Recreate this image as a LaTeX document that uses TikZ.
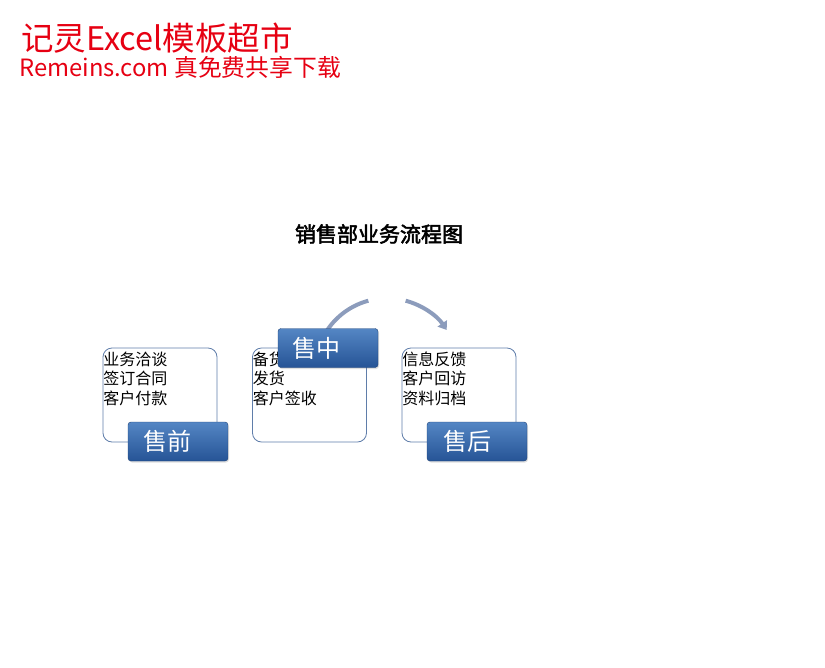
\documentclass[tikz,border=0pt]{standalone}
\usepackage{fontspec}
\setmainfont[AutoFakeBold=2.5]{Noto Sans CJK SC}
\usetikzlibrary{arrows.meta,shadows}
\definecolor{wmred}{RGB}{230,0,18}
\definecolor{boxline}{RGB}{95,125,170}
\definecolor{labtop}{RGB}{84,134,196}
\definecolor{labbot}{RGB}{38,84,150}
\definecolor{arcgray}{RGB}{140,156,188}

\begin{document}
\begin{tikzpicture}[x=1pt, y=-1pt,
    stagebox/.style={draw=boxline, fill=white, rounded corners=9pt, minimum width=114pt, minimum height=94pt, line width=0.8pt},
    stagetext/.style={anchor=north west, align=left, inner sep=0pt, font=\fontsize{16}{19.5}\selectfont},
    tagbox/.style={rounded corners=3pt, top color=labtop, bottom color=labbot, draw=labbot!80!black, line width=0.4pt, minimum width=100pt, minimum height=39pt, drop shadow={opacity=0.25, shadow xshift=1pt, shadow yshift=-1.5pt}},
    tagtext/.style={text=white, inner sep=0pt, font=\fontsize{24}{24}\selectfont},
    flowarc/.style={arcgray, line width=4pt}]
        \useasboundingbox (0,0) rectangle (825,667);

        % watermark
        \node[anchor=base west, inner sep=0pt, text depth=1.5pt, text=wmred, font=\fontsize{32.5}{32.5}\selectfont] (brand) at (21,50.5) {记灵Excel模板超市};
        \node[anchor=base west, inner sep=0pt, text height=16pt, text=wmred, font=\fontsize{23.8}{23.8}\selectfont] (site) at (19,76) {Remeins.com 真免费共享下载};

        \node[font=\fontsize{21}{21}\selectfont\bfseries] (title) at (379,234) {销售部业务流程图};

        % cycle arrow behind the middle tag
        \coordinate (arcc) at (387,370.25);
        \draw[flowarc] ([shift={(146:72pt)}]arcc) arc[start angle=146, end angle=105, radius=72pt];
        \draw[flowarc, -{Triangle[length=8pt, width=11pt]}] ([shift={(75:72pt)}]arcc) arc[start angle=75, end angle=34, radius=72pt];

        \node[stagebox] (before) at (160,395) {};
        \node[stagebox] (during) at (309.5,395) {};
        \node[stagebox] (after) at (459,395) {};

        \node[stagetext] (beforelist) at ([xshift=0.5pt, yshift=-4pt]before.north west) {业务洽谈\\签订合同\\客户付款};
        \node[stagetext] (duringlist) at ([xshift=0.5pt, yshift=-4pt]during.north west) {备货\\发货\\客户签收};
        \node[stagetext] (afterlist) at ([xshift=0.5pt, yshift=-4pt]after.north west) {信息反馈\\客户回访\\资料归档};

        \node[tagbox] (pre) at (178,441.5) {};
        \node[tagbox] (mid) at (328,348) {};
        \node[tagbox] (post) at (477,441.5) {};
        \node[tagtext] (pretext) at ([xshift=-11pt]pre.center) {售前};
        \node[tagtext] (midtext) at ([xshift=-12pt]mid.center) {售中};
        \node[tagtext] (posttext) at ([xshift=-10pt]post.center) {售后};
\end{tikzpicture}
\end{document}
